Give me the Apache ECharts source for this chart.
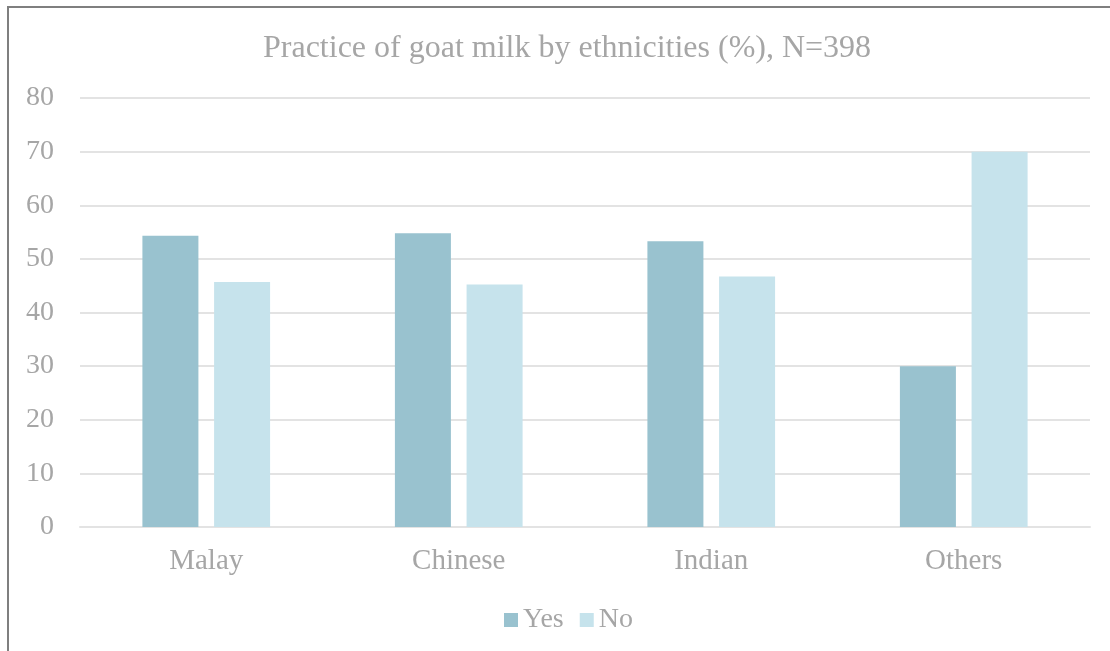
<!DOCTYPE html>
<html>
<head>
<meta charset="utf-8">
<script src="https://cdn.jsdelivr.net/npm/echarts@6/dist/echarts.min.js"></script>
<style>
  html, body { margin: 0; padding: 0; background: #fff; }
  #chart { width: 1110px; height: 651px; }
</style>
</head>
<body>
<div id="chart"></div>
<script>
var titleText = 'Practice of goat milk by ethnicities (%), N=398';
var categories = ['Malay', 'Chinese', 'Indian', 'Others'];
var seriesNames = ['Yes', 'No'];
var yesValues = [54.3, 54.8, 53.3, 30.0];
var noValues = [45.7, 45.2, 46.7, 70.0];

var font = '"Liberation Serif", "Times New Roman", serif';
var grey = '#a6a6a6';

var chart = echarts.init(document.getElementById('chart'));
chart.setOption({
  animation: false,
  textStyle: { fontFamily: font },
  graphic: [{
    type: 'rect',
    shape: { x: 8, y: 7, width: 1200, height: 700 },
    style: { fill: 'none', stroke: '#7f7f7f', lineWidth: 2 },
    silent: true
  }],
  title: {
    text: titleText,
    left: 258,
    top: 28,
    textStyle: { fontFamily: font, fontSize: 32, fontWeight: 'normal', color: grey }
  },
  legend: {
    data: seriesNames,
    top: 601,
    left: 499,
    itemWidth: 14,
    itemHeight: 14,
    itemGap: 16,
    icon: 'rect',
    textStyle: { fontFamily: font, fontSize: 28, color: grey }
  },
  grid: { left: 80, right: 20, top: 98, bottom: 124 },
  xAxis: {
    type: 'category',
    data: categories,
    axisLine: { show: true, lineStyle: { color: '#e3e3e3', width: 2 } },
    axisTick: { show: false },
    axisLabel: { fontFamily: font, fontSize: 29, color: grey, margin: 20 }
  },
  yAxis: {
    type: 'value',
    min: 0,
    max: 80,
    interval: 10,
    axisLine: { show: false },
    axisTick: { show: false },
    splitLine: { lineStyle: { color: '#e3e3e3', width: 2 } },
    axisLabel: { fontFamily: font, fontSize: 28, color: grey, margin: 26 }
  },
  series: [{
    name: seriesNames[0],
    type: 'bar',
    data: yesValues,
    barWidth: 56,
    barGap: '28%',
    itemStyle: { color: '#99c2cf' }
  }, {
    name: seriesNames[1],
    type: 'bar',
    data: noValues,
    barWidth: 56,
    itemStyle: { color: '#c6e3ec' }
  }]
});
</script>
</body>
</html>
